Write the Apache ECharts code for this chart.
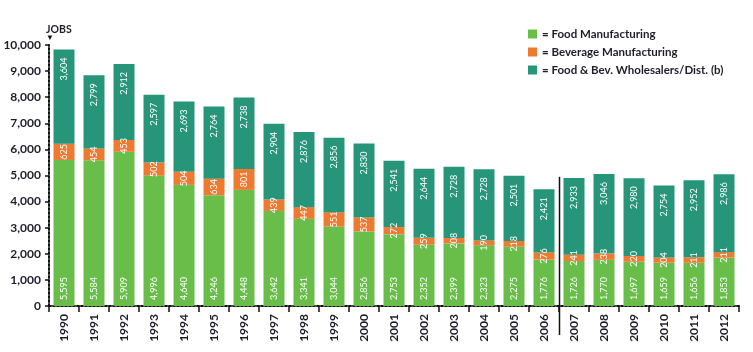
<!DOCTYPE html>
<html>
<head>
<meta charset="utf-8">
<script src="https://cdn.jsdelivr.net/npm/echarts@6/dist/echarts.min.js"></script>
<style>
  html, body { margin: 0; padding: 0; background: #fff; }
  #chart { width: 753px; height: 352px; }
</style>
</head>
<body>
<div id="chart"></div>
<script>
// years on the x axis
const years = ['1990', '1991', '1992', '1993', '1994', '1995', '1996', '1997', '1998', '1999', '2000',
  '2001', '2002', '2003', '2004', '2005', '2006', '2007', '2008', '2009', '2010', '2011', '2012'];

// jobs per segment, as printed on the bars
const foodMfg = [5595, 5584, 5909, 4996, 4640, 4246, 4448, 3642, 3341, 3044, 2856,
  2753, 2352, 2399, 2323, 2275, 1776, 1726, 1770, 1697, 1659, 1656, 1853];
const beverageMfg = [625, 454, 453, 502, 504, 634, 801, 439, 447, 551, 537,
  272, 259, 208, 190, 218, 276, 241, 238, 220, 204, 211, 211];
const wholesalers = [3604, 2799, 2912, 2597, 2693, 2764, 2738, 2904, 2876, 2856, 2830,
  2541, 2644, 2728, 2728, 2501, 2421, 2933, 3046, 2980, 2754, 2952, 2986];

const seriesNames = ['Food Manufacturing', 'Beverage Manufacturing', 'Food & Bev. Wholesalers/Dist. (b)'];
const colors = ['#69be4a', '#ee7a30', '#27957a'];

const FONT = 'Lato, sans-serif';
const TEXT = '#1e1e2a';
const fmt = (v) => v.toLocaleString('en-US');

const chart = echarts.init(document.getElementById('chart'));

function barLabel(position, align, distance) {
  return {
    show: true,
    rotate: 90,
    position: position,
    align: align,
    verticalAlign: 'middle',
    distance: distance,
    color: '#fff',
    fontSize: 9,
    fontFamily: FONT,
    formatter: (p) => fmt(p.value)
  };
}

chart.setOption({
  animation: false,
  color: colors,
  grid: { left: 49, right: 14, top: 45, bottom: 46 },
  legend: {
    orient: 'vertical',
    left: 523,
    top: 23,
    itemWidth: 9,
    itemHeight: 9,
    itemGap: 6,
    icon: 'rect',
    textStyle: { fontFamily: FONT, fontSize: 11.5, fontWeight: 'bold', color: TEXT },
    formatter: (name) => '= ' + name,
    data: seriesNames
  },
  xAxis: {
    type: 'category',
    data: years,
    axisLine: { lineStyle: { color: '#111', width: 2, type: 'dotted' } },
    axisTick: { show: true, length: 6, lineStyle: { color: '#111', width: 1.5 } },
    axisLabel: {
      rotate: 90,
      margin: 8,
      fontFamily: FONT,
      fontSize: 12,
      fontWeight: 'bold',
      color: TEXT
    }
  },
  yAxis: {
    type: 'value',
    min: 0,
    max: 10000,
    interval: 1000,
    name: '{t|JOBS}\n{a|▼}',
    nameLocation: 'end',
    nameGap: 20,
    nameMoveOverlap: false,
    nameTextStyle: {
      align: 'left',
      verticalAlign: 'top',
      padding: [0, 0, 0, -3],
      rich: {
        t: { fontFamily: FONT, fontSize: 10.5, fontWeight: 'bold', color: TEXT, lineHeight: 9 },
        a: { fontSize: 8, color: '#111', lineHeight: 8 }
      }
    },
    axisLine: { show: true, lineStyle: { color: '#111', width: 2, type: 'dotted' } },
    axisTick: { show: true, length: 4, lineStyle: { color: '#111', width: 1.5 } },
    splitLine: { show: false },
    axisLabel: {
      margin: 8,
      fontFamily: FONT,
      fontSize: 12,
      fontWeight: 'bold',
      color: TEXT,
      formatter: (v) => fmt(v)
    }
  },
  series: [
    {
      name: seriesNames[0],
      type: 'bar',
      stack: 'jobs',
      barWidth: 21,
      data: foodMfg,
      label: barLabel('insideBottom', 'left', 6)
    },
    {
      name: seriesNames[1],
      type: 'bar',
      stack: 'jobs',
      barWidth: 21,
      data: beverageMfg,
      label: barLabel('inside', 'center', 0)
    },
    {
      name: seriesNames[2],
      type: 'bar',
      stack: 'jobs',
      barWidth: 21,
      data: wholesalers,
      label: barLabel('insideTop', 'right', 8)
    }
  ]
});

// separator between 2006 and 2007, placed through the axis scales
const x06 = chart.convertToPixel({ xAxisIndex: 0 }, '2006');
const x07 = chart.convertToPixel({ xAxisIndex: 0 }, '2007');
const sepX = Math.round((x06 + x07) / 2) + 0.5;
const sepTop = chart.convertToPixel({ yAxisIndex: 0 }, 4950);
const sepBottom = chart.convertToPixel({ yAxisIndex: 0 }, 0) + 29;
chart.setOption({
  graphic: [{
    type: 'line',
    shape: { x1: sepX, y1: sepTop, x2: sepX, y2: sepBottom },
    style: { stroke: '#111', lineWidth: 1.5 }
  }]
});
</script>
</body>
</html>
